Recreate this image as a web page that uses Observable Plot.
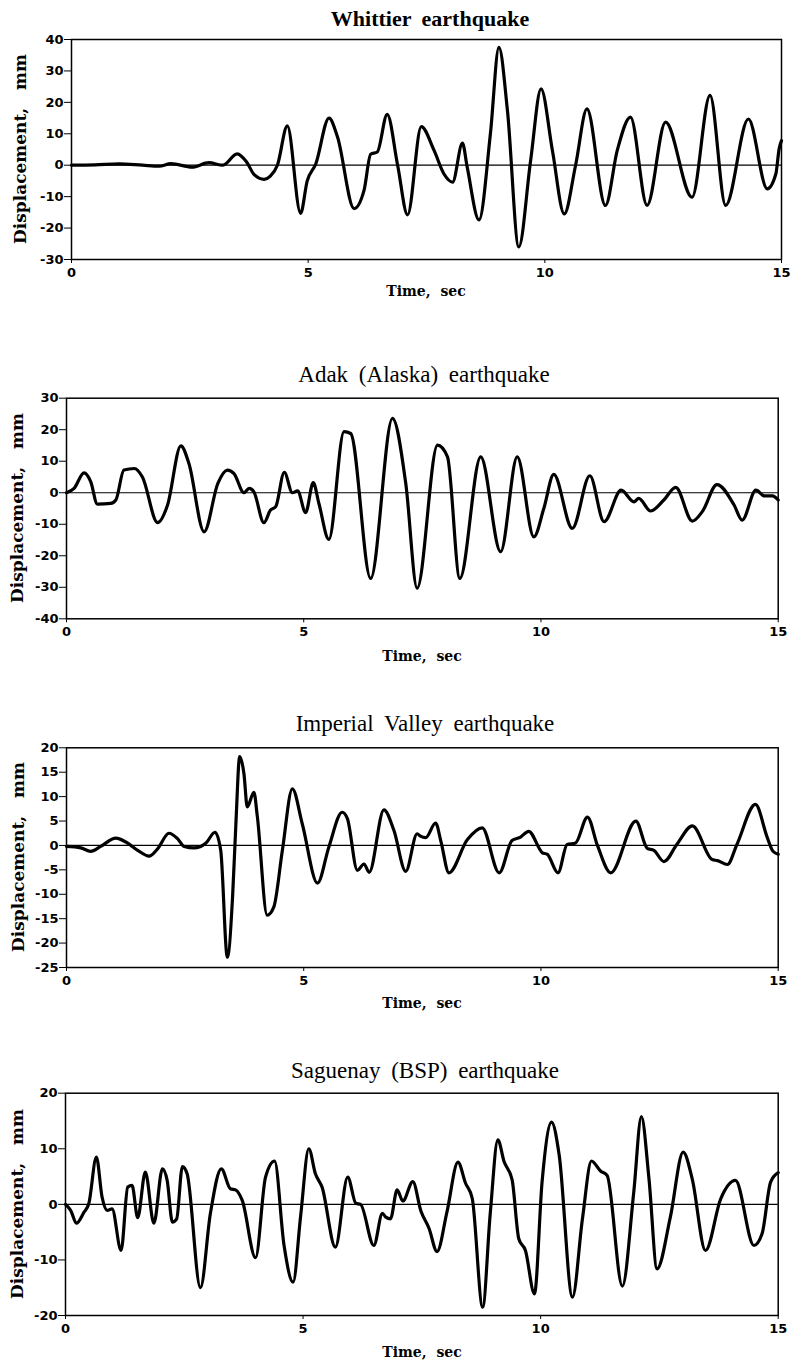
<!DOCTYPE html>
<html>
<head>
<meta charset="utf-8">
<script src="https://cdn.jsdelivr.net/npm/d3@7"></script>
<script src="https://cdn.jsdelivr.net/npm/@observablehq/plot@0.6"></script>
<style>
  body { margin: 0; background: #fff; }
  #page { position: relative; width: 792px; height: 1365px; overflow: hidden; background: #fff; }
  .panel { position: absolute; left: 0; }
  .title { position: absolute; white-space: pre; transform: translateX(-50%); font-family: "Liberation Serif", serif; color: #000; word-spacing: 5px; }
  .ylab { position: absolute; white-space: pre; font-family: "DejaVu Serif", serif; font-weight: bold; font-size: 17px; line-height: 17px; color: #000; transform: translate(-50%, -50%) rotate(-90deg); }
  .xlab { position: absolute; white-space: pre; font-family: "DejaVu Serif", serif; font-weight: bold; font-size: 14px; line-height: 14px; color: #000; transform: translateX(-50%); }
</style>
</head>
<body>
<div id="page"></div>
<script>
// ---- Data ----
const titles = ["Whittier earthquake", "Adak (Alaska) earthquake", "Imperial Valley earthquake", "Saguenay (BSP) earthquake"];
const yLabel = "Displacement,\u00a0\u00a0\u00a0mm";
const xLabel = "Time,\u00a0\u00a0sec";
const xTicks = [0, 5, 10, 15];
const yDomains = [[-30, 40], [-40, 30], [-25, 20], [-20, 20]];
const yTicks = [
  [-30, -20, -10, 0, 10, 20, 30, 40],
  [-40, -30, -20, -10, 0, 10, 20, 30],
  [-25, -20, -15, -10, -5, 0, 5, 10, 15, 20],
  [-20, -10, 0, 10, 20]
];

// [time (s), displacement (mm)]
const whittier = [[0,0],[0.5,0.1],[1.0,0.4],[1.5,0],[1.85,-0.3],[2.1,0.5],[2.55,-0.6],[2.9,0.8],[3.2,0],[3.5,3.6],[3.7,1],[3.86,-3],[4.07,-4.5],[4.2,-3.5],[4.35,0],[4.56,12.5],[4.84,-15.3],[4.98,-5],[5.16,0.4],[5.44,15],[5.62,9],[5.97,-13.8],[6.18,-8],[6.32,3.5],[6.46,4.2],[6.67,16.2],[6.89,0],[7.1,-15.8],[7.39,12.3],[7.66,4.7],[7.87,-2.8],[8.05,-5.4],[8.26,7],[8.36,-0.6],[8.61,-17.4],[8.85,10],[9.03,37.5],[9.21,17.4],[9.45,-26],[9.70,1.5],[9.92,24.3],[10.16,4.7],[10.41,-15.5],[10.65,0],[10.89,17.9],[11.28,-12.8],[11.53,4.7],[11.81,15.3],[12.16,-12.8],[12.55,13.7],[13.11,-10.2],[13.49,22.2],[13.82,-12.8],[14.30,14.7],[14.70,-7.5],[14.88,-2.8],[14.95,5.2],[15.0,7.8]];

const adak = [[0,0],[0.16,1.4],[0.37,6.3],[0.51,3.5],[0.65,-3.6],[0.93,-3.4],[1.04,-2.3],[1.21,7.2],[1.43,7.7],[1.60,5],[1.92,-9.5],[2.13,-3.9],[2.41,14.9],[2.58,9.3],[2.90,-12.4],[3.19,3],[3.39,7.2],[3.53,6.1],[3.74,0],[3.85,1.4],[3.95,0.3],[4.16,-9.5],[4.30,-5.5],[4.41,-4.4],[4.59,6.5],[4.76,0],[4.87,0.6],[5.04,-6.3],[5.20,3.2],[5.32,-3.4],[5.53,-14.8],[5.85,19.4],[5.99,18.8],[6.41,-27.2],[6.87,23.6],[7.15,3],[7.39,-30.3],[7.82,15.1],[8.03,11.4],[8.29,-27.2],[8.73,11.4],[9.15,-18.7],[9.50,11.4],[9.85,-14],[10.06,-5],[10.27,5.8],[10.66,-11.3],[11.03,5.4],[11.33,-9.2],[11.69,0.8],[11.96,-2.9],[12.06,-1.8],[12.31,-5.8],[12.59,-2.3],[12.84,1.7],[13.19,-9],[13.40,-6],[13.71,2.6],[14.07,-3.9],[14.24,-8.7],[14.53,0.8],[14.71,-1],[14.88,-1],[15.0,-2.3]];

const imperial = [[0,-0.2],[0.30,-0.5],[0.51,-1.2],[0.72,-0.2],[1.04,1.5],[1.25,0.7],[1.50,-1],[1.74,-2.2],[1.92,-0.7],[2.16,2.5],[2.34,1.4],[2.48,-0.2],[2.69,-0.5],[2.94,0.5],[3.13,2.7],[3.25,-1],[3.39,-22.9],[3.50,-10.6],[3.57,4.4],[3.65,18.2],[3.74,14.7],[3.81,7.9],[3.95,10.9],[4.02,6.1],[4.23,-14.3],[4.37,-12.6],[4.55,-1],[4.76,11.6],[4.97,4.4],[5.29,-7.7],[5.53,-0.3],[5.81,6.8],[5.92,5.5],[6.13,-5.1],[6.27,-3.8],[6.38,-5.5],[6.69,7.3],[6.90,3.1],[7.15,-5.3],[7.39,2.4],[7.46,1.9],[7.57,1.6],[7.78,4.6],[7.89,0.9],[8.06,-5.6],[8.45,1.2],[8.76,3.6],[9.12,-5.6],[9.39,1],[9.57,1.7],[9.74,2.9],[10.03,-1.5],[10.13,-1.8],[10.36,-5.6],[10.55,0.2],[10.73,0.5],[10.98,5.8],[11.19,0],[11.47,-5.6],[12.00,5],[12.24,-0.6],[12.38,-1],[12.59,-3.3],[12.87,0.3],[13.19,4],[13.61,-2.9],[13.72,-3.1],[13.93,-3.9],[14.13,0.2],[14.52,8.4],[14.77,1.6],[14.89,-1.2],[15.0,-1.8]];

const saguenay = [[0,0],[0.11,-1.1],[0.23,-3.4],[0.39,-1.4],[0.49,0.1],[0.65,8.5],[0.77,1.3],[0.88,-1.1],[0.98,-0.8],[1.17,-8.3],[1.31,3.1],[1.40,3.4],[1.52,-2.4],[1.68,5.8],[1.86,-3.4],[2.04,6.4],[2.14,4.3],[2.25,-3.2],[2.34,-2.6],[2.46,6.8],[2.56,5.5],[2.84,-15],[3.05,-1.6],[3.28,6.4],[3.47,2.8],[3.58,2.6],[3.72,0.7],[4.0,-9.6],[4.21,4.9],[4.40,7.8],[4.60,-7.4],[4.79,-14],[4.95,-2],[5.12,10],[5.26,5.5],[5.40,3.1],[5.68,-7.7],[5.94,4.9],[6.11,0.2],[6.21,0],[6.49,-7.4],[6.67,-1.6],[6.74,-2.3],[6.84,-2.6],[6.98,2.6],[7.1,0.6],[7.31,4.1],[7.48,-1.2],[7.65,-4.3],[7.82,-8.5],[8.03,-1.3],[8.26,7.6],[8.42,3.8],[8.56,1.1],[8.78,-18.5],[8.94,-1.6],[9.10,11.6],[9.23,7.7],[9.40,4.4],[9.54,-6.2],[9.68,-8.3],[9.87,-16.1],[10.03,4],[10.23,14.8],[10.39,8.9],[10.67,-16.7],[10.88,-2.6],[11.07,7.8],[11.26,6],[11.40,5.2],[11.72,-14.7],[11.96,2.2],[12.12,15.8],[12.28,4.6],[12.45,-11.6],[12.73,-2.3],[13.0,9.4],[13.19,4.6],[13.47,-8.3],[13.79,1],[14.10,4.3],[14.49,-7.4],[14.66,-5.3],[14.84,4],[15.0,5.7]];

const series = [whittier, adak, imperial, saguenay];

// ---- Layout (pixels) ----
const layout = [
  {top: 0,    height: 300, mt: 39,   mb: 41,   ml: 71, mr: 11,   titleX: 430, titleBase: 26,   titleSize: 22, titleBold: true,  ylabX: 20, xlabX: 426, xlabBase: 296},
  {top: 350,  height: 310, mt: 47.7, mb: 41.7, ml: 66, mr: 14.3, titleX: 424, titleBase: 382,  titleSize: 23, titleBold: false, ylabX: 17, xlabX: 422, xlabBase: 661},
  {top: 700,  height: 310, mt: 47.3, mb: 43,   ml: 66, mr: 14.3, titleX: 425, titleBase: 731,  titleSize: 23, titleBold: false, ylabX: 18, xlabX: 422, xlabBase: 1008},
  {top: 1045, height: 310, mt: 47.7, mb: 40,   ml: 65, mr: 14.3, titleX: 425, titleBase: 1078, titleSize: 23, titleBold: false, ylabX: 17, xlabX: 422, xlabBase: 1357}
];

const page = document.getElementById("page");

series.forEach((pts, i) => {
  const L = layout[i];
  const data = pts.map(([t, v]) => ({t, v}));
  const chart = Plot.plot({
    width: 792,
    height: L.height,
    marginTop: L.mt,
    marginBottom: L.mb,
    marginLeft: L.ml,
    marginRight: L.mr,
    style: {fontFamily: "'DejaVu Sans', sans-serif", fontWeight: "bold", fontSize: "13px", color: "#000", background: "#fff", overflow: "visible"},
    x: {domain: [0, 15], ticks: xTicks, tickSize: 4, tickPadding: 4, label: null, tickFormat: d => String(d)},
    y: {domain: yDomains[i], ticks: yTicks[i], tickSize: 7, tickPadding: 1, label: null, tickFormat: d => String(d)},
    marks: [
      Plot.ruleY([0], {stroke: "#000", strokeWidth: 1.2}),
      Plot.line(data, {x: "t", y: "v", stroke: "#000", strokeWidth: 3.2, curve: "monotone-x", strokeLinejoin: "round", strokeLinecap: "round"}),
      Plot.frame({stroke: "#000", strokeWidth: 1.5})
    ]
  });
  const holder = document.createElement("div");
  holder.className = "panel";
  holder.style.top = L.top + "px";
  holder.appendChild(chart);
  page.appendChild(holder);

  // Title
  const tt = document.createElement("div");
  tt.className = "title";
  tt.textContent = titles[i];
  tt.style.fontSize = L.titleSize + "px";
  tt.style.lineHeight = L.titleSize + "px";
  tt.style.fontWeight = L.titleBold ? "bold" : "normal";
  tt.style.left = L.titleX + "px";
  tt.style.top = (L.titleBase - 0.8375 * L.titleSize) + "px";
  page.appendChild(tt);

  // Y label
  const yl = document.createElement("div");
  yl.className = "ylab";
  yl.textContent = yLabel;
  yl.style.left = L.ylabX + "px";
  yl.style.top = (L.top + L.mt + (L.height - L.mt - L.mb) / 2) + "px";
  page.appendChild(yl);

  // X label
  const xl = document.createElement("div");
  xl.className = "xlab";
  xl.textContent = xLabel;
  xl.style.left = L.xlabX + "px";
  xl.style.top = (L.xlabBase - 0.846 * 14) + "px";
  page.appendChild(xl);
});
</script>
</body>
</html>
